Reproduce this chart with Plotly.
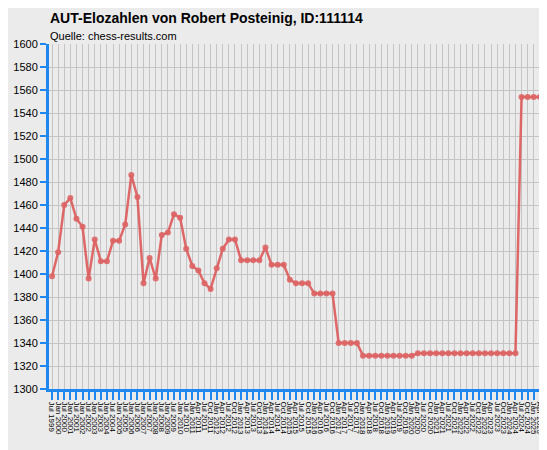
import plotly.graph_objects as go

elo = [1398, 1419, 1460, 1466, 1448, 1441, 1396, 1430, 1411, 1411,
       1429, 1429, 1443, 1486, 1467, 1392, 1414, 1396, 1434, 1436,
       1452, 1449, 1422, 1407, 1403, 1392, 1387, 1405, 1422, 1430,
       1430, 1412, 1412, 1412, 1412, 1423, 1408, 1408, 1408, 1395,
       1392, 1392, 1392, 1383, 1383, 1383, 1383, 1340, 1340, 1340,
       1340, 1329, 1329, 1329, 1329, 1329, 1329, 1329, 1329, 1329,
       1331, 1331, 1331, 1331, 1331, 1331, 1331, 1331, 1331, 1331,
       1331, 1331, 1331, 1331, 1331, 1331, 1331, 1554, 1554, 1554,
       1554, 1554]

# semiannual until Jan 2011, then quarterly
dates = []
for y in range(1999, 2011):
    if y > 1999:
        dates.append(f"Jan {y}")
    dates.append(f"Jul {y}")
dates.append("Jan 2011")
for y in range(2011, 2026):
    for m in ["Jan", "Apr", "Jul", "Oct"]:
        if y == 2011 and m == "Jan":
            continue
        if y == 2025 and m == "Oct":
            continue
        dates.append(f"{m} {y}")
dates = dates[:len(elo)]

fig = go.Figure(go.Scatter(
    x=dates, y=elo, mode="lines+markers",
    line=dict(color="rgba(221,90,90,0.9)", width=2.5),
    marker=dict(color="rgba(221,100,100,0.9)", size=6),
    hoverinfo="x+y",
))

fig.update_layout(
    width=547, height=450,
    margin=dict(l=41, r=6, t=36, b=69, autoexpand=False),
    paper_bgcolor="#ebebeb", plot_bgcolor="#ebebeb",
    font=dict(family="Liberation Sans, Arial", size=12, color="black"),
    showlegend=False,
    annotations=[
        dict(text="<b>AUT-Elozahlen von Robert Posteinig, ID:111114</b>", x=0, y=1,
             xref="paper", yref="paper", xanchor="left", yanchor="bottom",
             yshift=16, xshift=-1, showarrow=False, font=dict(size=14)),
        dict(text="Quelle: chess-results.com", x=0, y=1,
             xref="paper", yref="paper", xanchor="left", yanchor="bottom",
             yshift=0, xshift=-1, showarrow=False, font=dict(size=11)),
    ],
)
fig.update_xaxes(
    type="category", tickangle=90, tickfont=dict(size=8),
    tickmode="array", tickvals=dates, ticktext=dates, automargin=False,
    showgrid=True, gridcolor="#c4c4c4", gridwidth=1,
    showline=True, linecolor="#1e88f0", linewidth=3,
    ticks="outside", tickcolor="#1e88f0", ticklen=8, tickwidth=2,
    range=[-0.5, len(elo) - 0.5],
)
fig.update_yaxes(
    range=[1300, 1600], dtick=20, tickfont=dict(size=11), automargin=False,
    showgrid=True, gridcolor="#c4c4c4", gridwidth=1,
    showline=True, linecolor="#1e88f0", linewidth=3,
    ticks="outside", tickcolor="#1e88f0", ticklen=6, tickwidth=2,
    zeroline=False,
)

fig.write_html("out.html")
